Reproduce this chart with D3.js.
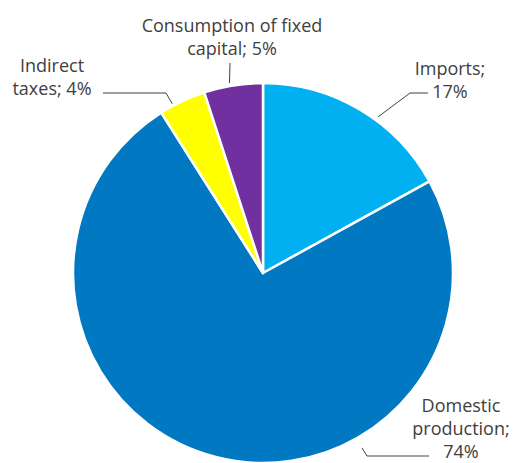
<!DOCTYPE html>
<html>
<head>
<meta charset="utf-8">
<script src="https://cdn.jsdelivr.net/npm/d3@7"></script>
<style>
  html, body { margin: 0; padding: 0; background: #fff; }
  svg { display: block; }
  text { font-family: "Open Sans", "Liberation Sans", sans-serif; fill: #404040; }
</style>
</head>
<body>
<svg id="chart" width="513" height="463"></svg>
<script>
// Shares of total supply, clockwise from 12 o'clock
const categories = ["Imports", "Domestic production", "Indirect taxes", "Consumption of fixed capital"];
const shares = [17, 74, 4, 5];
const colors = ["#00B0F0", "#0079C2", "#FFFF00", "#7030A0"];

// Label text, split into lines
const labelLines = [
  ["Imports;", "17%"],
  ["Domestic", "production;", "74%"],
  ["Indirect", "taxes; 4%"],
  ["Consumption of fixed", "capital; 5%"]
];

const svg = d3.select("#chart");
const cx = 263, cy = 273, r = 190;

const pie = d3.pie().sort(null).value(d => d).startAngle(0).endAngle(2 * Math.PI);
const arcs = pie(shares);
const arc = d3.arc().innerRadius(0).outerRadius(r);

const g = svg.append("g").attr("transform", `translate(${cx},${cy})`);
g.selectAll("path.slice")
  .data(arcs)
  .join("path")
  .attr("class", "slice")
  .attr("d", arc)
  .attr("fill", (d, i) => colors[i])
  .attr("stroke", "#fff")
  .attr("stroke-width", 2.5)
  .attr("stroke-linejoin", "round");

// Label placement: text centre of first baseline, leader start (angle in degrees
// clockwise from top, distance from centre), elbow and end of leader
const labelPos = [
  { x: 450, y: 75, ang: 36.4, dist: 194, elbow: [410, 93], end: [428, 93] },
  { x: 461, y: 412, ang: 150.5, dist: 201, elbow: [367, 456], end: [429, 456] },
  { x: 52, y: 72, ang: 331.8, dist: 192, elbow: [166, 93], end: [103, 93] },
  { x: 232, y: 32, ang: 350, dist: 193, elbow: [230, 63], end: [230, 63] }
];
const lineH = 23;

labelPos.forEach((p, i) => {
  const a = p.ang * Math.PI / 180;
  const px = cx + Math.sin(a) * p.dist;
  const py = cy - Math.cos(a) * p.dist;
  svg.append("polyline")
    .attr("points", [[px, py], p.elbow, p.end].map(q => q.join(",")).join(" "))
    .attr("fill", "none")
    .attr("stroke", "#404040")
    .attr("stroke-width", 1);
  const t = svg.append("text")
    .attr("text-anchor", "middle")
    .attr("font-size", 18);
  labelLines[i].forEach((line, k) => {
    t.append("tspan").attr("x", p.x).attr("y", p.y + k * lineH).text(line);
  });
});
</script>
</body>
</html>
